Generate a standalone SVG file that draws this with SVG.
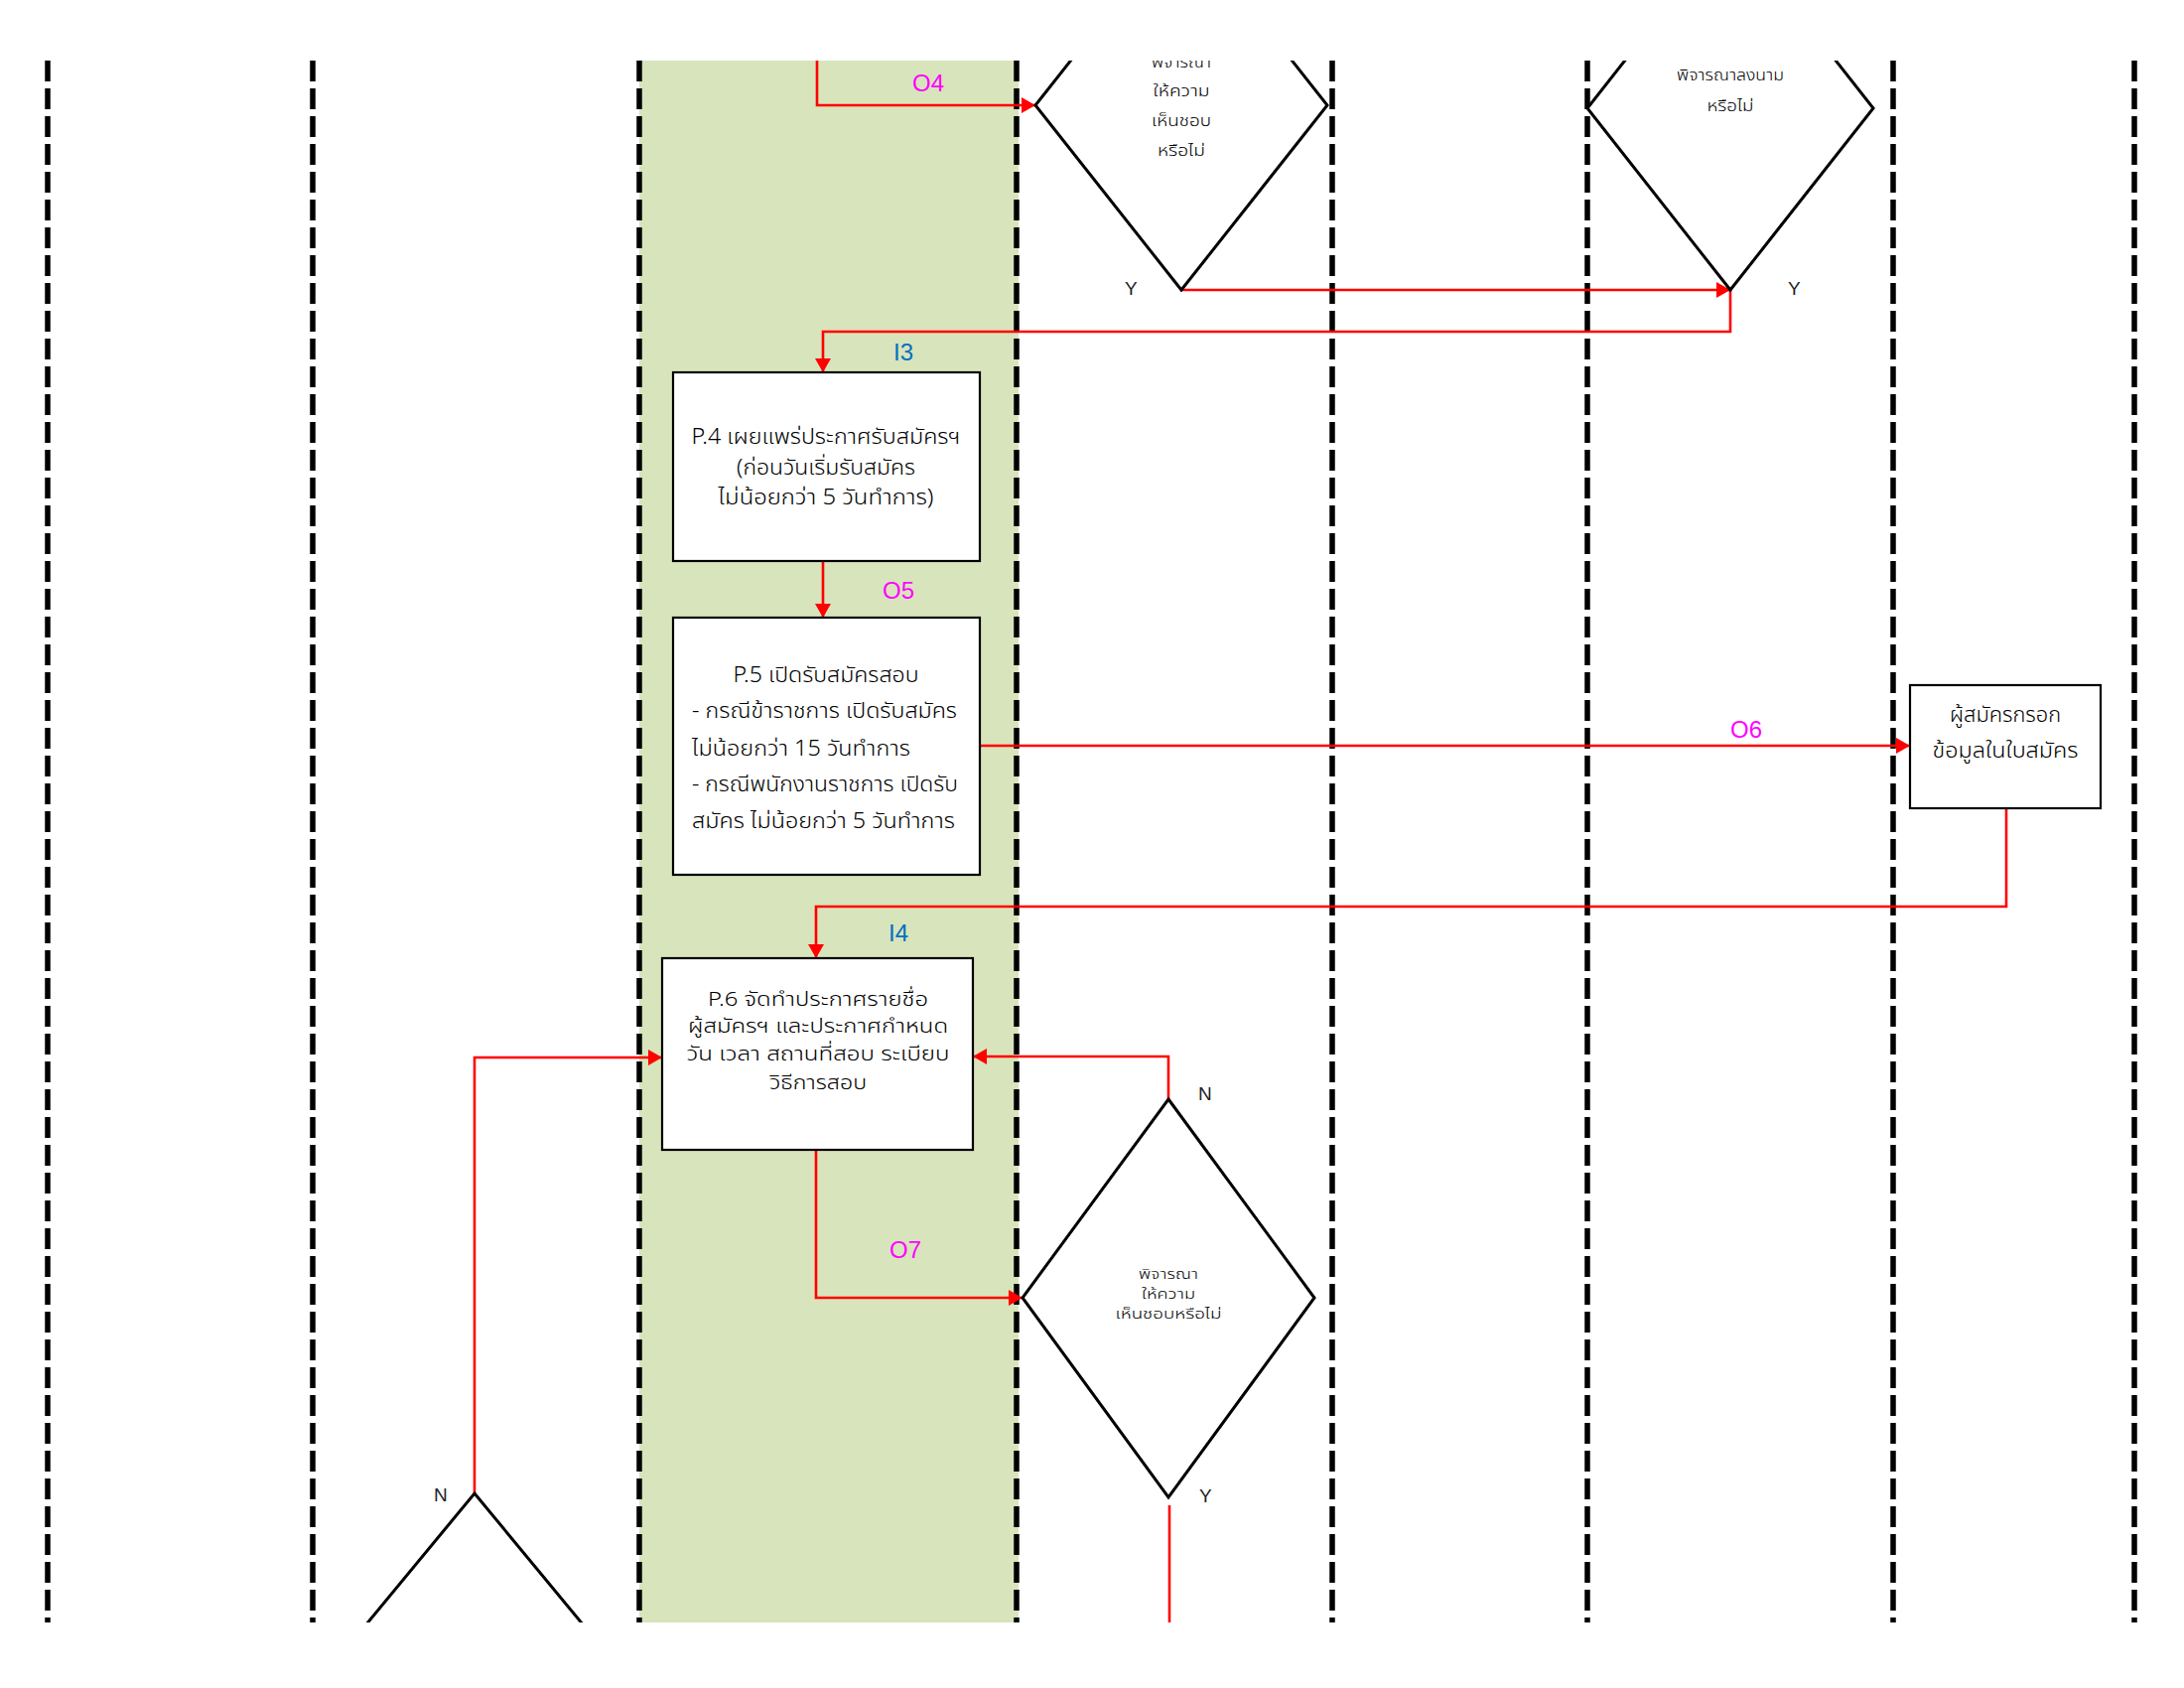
<svg xmlns="http://www.w3.org/2000/svg" width="2200" height="1700" viewBox="0 0 2200 1700">
<defs>
<style>
.lane{stroke:#000;stroke-width:5.5;stroke-dasharray:21 7;fill:none}
.box{fill:#fff;stroke:#000;stroke-width:2.2}
.dia{fill:#fff;stroke:#000;stroke-width:3}
.con{fill:none;stroke:#f00;stroke-width:2.6}
.t{font-family:"Noto Sans Thai","Noto Sans","DejaVu Sans",sans-serif;fill:#000;font-weight:300}
.bt{font-size:22px;text-anchor:middle}
.bl{font-size:22px}
.p6{font-size:20px;text-anchor:middle}
.dt{font-size:16px;text-anchor:middle}
.lo{font-family:"Liberation Sans","Noto Sans",sans-serif;font-size:24px;fill:#f0f}
.li{font-family:"Liberation Sans","Noto Sans",sans-serif;font-size:24px;fill:#0070c0}
.yn{font-family:"Liberation Sans","Noto Sans",sans-serif;font-size:19px;fill:#222}
</style>
<marker id="ah" viewBox="0 0 14 16" refX="14" refY="8" markerWidth="14" markerHeight="16" orient="auto" markerUnits="userSpaceOnUse">
<path d="M0,0 L14,8 L0,16 Z" fill="#f00"/>
</marker>
<clipPath id="page"><rect x="0" y="61" width="2200" height="1573"/></clipPath>
</defs>
<rect width="2200" height="1700" fill="#fff"/>
<g clip-path="url(#page)">
<rect id="band" x="644" y="61" width="382" height="1573" fill="#d8e4bc"/>
<g id="lanes">
<line class="lane" x1="48" y1="61" x2="48" y2="1634"/>
<line class="lane" x1="315" y1="61" x2="315" y2="1634"/>
<line class="lane" x1="644" y1="61" x2="644" y2="1634"/>
<line class="lane" x1="1024" y1="61" x2="1024" y2="1634"/>
<line class="lane" x1="1342" y1="61" x2="1342" y2="1634"/>
<line class="lane" x1="1599" y1="61" x2="1599" y2="1634"/>
<line class="lane" x1="1907" y1="61" x2="1907" y2="1634"/>
<line class="lane" x1="2150" y1="61" x2="2150" y2="1634"/>
</g>
<g id="connectors">
<path class="con" d="M823,50 V106 H1043" marker-end="url(#ah)"/>
<path class="con" d="M1189,292 H1743" marker-end="url(#ah)"/>
<path class="con" d="M1743,292 V334 H829 V375" marker-end="url(#ah)"/>
<path class="con" d="M829,565 V622" marker-end="url(#ah)"/>
<path class="con" d="M987,751 H1924" marker-end="url(#ah)"/>
<path class="con" d="M2021,814 V913 H822 V965" marker-end="url(#ah)"/>
<path class="con" d="M822,1158 V1307 H1030" marker-end="url(#ah)"/>
<path class="con" d="M1177,1107 V1064 H980" marker-end="url(#ah)"/>
<path class="con" d="M478,1504 V1065 H667" marker-end="url(#ah)"/>
<path class="con" d="M1178,1516 V1650"/>
</g>
<g id="d1">
<polygon class="dia" points="1190,-80 1337,106 1190,292 1043,106"/>
<text class="t dt" x="1190" y="68" textLength="60" lengthAdjust="spacingAndGlyphs">พิจารณา</text>
<text class="t dt" x="1190" y="97" textLength="57" lengthAdjust="spacingAndGlyphs">ให้ความ</text>
<text class="t dt" x="1190" y="127" textLength="60" lengthAdjust="spacingAndGlyphs">เห็นชอบ</text>
<text class="t dt" x="1190" y="157" textLength="48" lengthAdjust="spacingAndGlyphs">หรือไม่</text>
</g>
<g id="d2">
<polygon class="dia" points="1743,-74 1887,109 1743,292 1599,109"/>
<text class="t dt" x="1743" y="81" textLength="108" lengthAdjust="spacingAndGlyphs">พิจารณาลงนาม</text>
<text class="t dt" x="1743" y="112" textLength="47" lengthAdjust="spacingAndGlyphs">หรือไม่</text>
</g>
<g id="p4">
<rect class="box" x="678" y="375" width="309" height="190"/>
<text class="t bt" x="832" y="447" textLength="271" lengthAdjust="spacingAndGlyphs">P.4 เผยแพร่ประกาศรับสมัครฯ</text>
<text class="t bt" x="832" y="478" textLength="180" lengthAdjust="spacingAndGlyphs">(ก่อนวันเริ่มรับสมัคร</text>
<text class="t bt" x="832" y="508" textLength="217" lengthAdjust="spacingAndGlyphs">ไม่น้อยกว่า 5 วันทำการ)</text>
</g>
<g id="p5">
<rect class="box" x="678" y="622" width="309" height="259"/>
<text class="t bt" x="832" y="687" textLength="187" lengthAdjust="spacingAndGlyphs">P.5 เปิดรับสมัครสอบ</text>
<text class="t bl" x="697" y="723" textLength="267" lengthAdjust="spacingAndGlyphs">- กรณีข้าราชการ เปิดรับสมัคร</text>
<text class="t bl" x="697" y="761" textLength="220" lengthAdjust="spacingAndGlyphs">ไม่น้อยกว่า 15 วันทำการ</text>
<text class="t bl" x="697" y="797" textLength="268" lengthAdjust="spacingAndGlyphs">- กรณีพนักงานราชการ เปิดรับ</text>
<text class="t bl" x="697" y="834" textLength="265" lengthAdjust="spacingAndGlyphs">สมัคร ไม่น้อยกว่า 5 วันทำการ</text>
</g>
<g id="applicant">
<rect class="box" x="1924" y="690" width="192" height="124"/>
<text class="t bt" x="2020" y="727" textLength="112" lengthAdjust="spacingAndGlyphs">ผู้สมัครกรอก</text>
<text class="t bt" x="2020" y="763" textLength="147" lengthAdjust="spacingAndGlyphs">ข้อมูลในใบสมัคร</text>
</g>
<g id="p6">
<rect class="box" x="667" y="965" width="313" height="193"/>
<text class="t p6" x="824" y="1013" textLength="222" lengthAdjust="spacingAndGlyphs">P.6 จัดทำประกาศรายชื่อ</text>
<text class="t p6" x="824" y="1040" textLength="262" lengthAdjust="spacingAndGlyphs">ผู้สมัครฯ และประกาศกำหนด</text>
<text class="t p6" x="824" y="1068" textLength="265" lengthAdjust="spacingAndGlyphs">วัน เวลา สถานที่สอบ ระเบียบ</text>
<text class="t p6" x="824" y="1097" textLength="98" lengthAdjust="spacingAndGlyphs">วิธีการสอบ</text>
</g>
<g id="d3">
<polygon class="dia" points="1177,1107 1324,1307 1177,1508 1030,1307"/>
<text class="t" font-size="14" text-anchor="middle" x="1177" y="1288" textLength="60" lengthAdjust="spacingAndGlyphs">พิจารณา</text>
<text class="t" font-size="14" text-anchor="middle" x="1177" y="1308" textLength="54" lengthAdjust="spacingAndGlyphs">ให้ความ</text>
<text class="t" font-size="14" text-anchor="middle" x="1177" y="1328" textLength="107" lengthAdjust="spacingAndGlyphs">เห็นชอบหรือไม่</text>
</g>
<g id="d4">
<polygon class="dia" points="478,1504 640,1700 478,1896 316,1700"/>
</g>
<g id="labels">
<text class="lo" x="919" y="92">O4</text>
<text class="li" x="900" y="363">I3</text>
<text class="lo" x="889" y="603">O5</text>
<text class="lo" x="1743" y="743">O6</text>
<text class="li" x="895" y="948">I4</text>
<text class="lo" x="896" y="1267">O7</text>
<text class="yn" x="1133" y="297">Y</text>
<text class="yn" x="1801" y="297">Y</text>
<text class="yn" x="1207" y="1108">N</text>
<text class="yn" x="1208" y="1513">Y</text>
<text class="yn" x="437" y="1512">N</text>
</g>
</g>
</svg>
